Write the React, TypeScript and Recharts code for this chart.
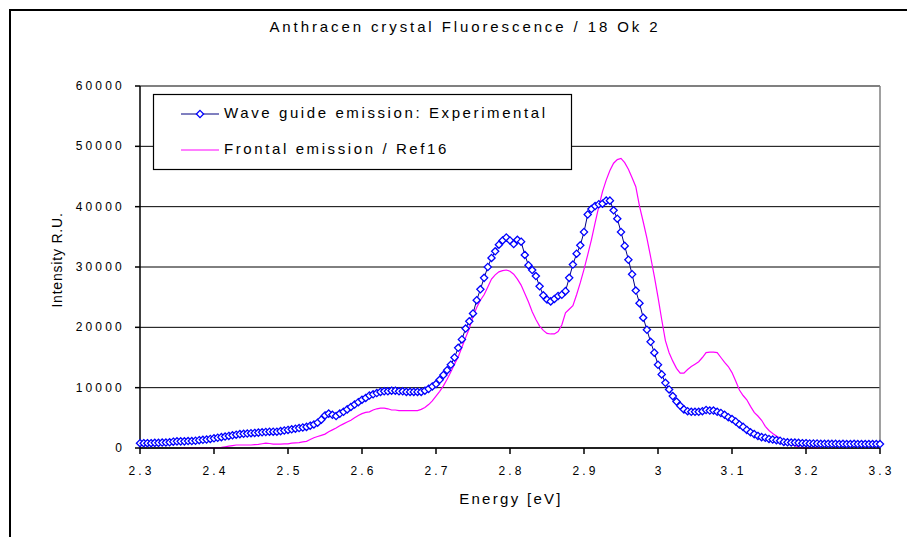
import React from 'react';
import { LineChart, Line, XAxis, YAxis, CartesianGrid, ReferenceLine } from 'recharts';

const CHART_TITLE = 'Anthracen crystal Fluorescence / 18 Ok 2';
const X_TITLE = 'Energy [eV]';
const Y_TITLE = 'Intensity R.U.';
const SERIES_NAMES = ['Wave guide emission: Experimental', 'Frontal emission / Ref16'];

const ENERGY_STEP = 0.005;
const WAVEGUIDE_START = 2.3;
const FRONTAL_START = 2.355;

// Wave guide emission (experimental), one row = 0.05 eV
const waveguideValues = [
  800, 800, 800, 800, 850, 850, 900, 900, 950, 1050,
  1100, 1100, 1100, 1150, 1150, 1200, 1300, 1350, 1400, 1500,
  1600, 1700, 1800, 1900, 2000, 2100, 2200, 2300, 2350, 2400,
  2450, 2500, 2550, 2600, 2650, 2700, 2700, 2700, 2800, 2900,
  3000, 3100, 3200, 3300, 3400, 3500, 3700, 3900, 4200, 4700,
  5400, 5700, 5500, 5300, 5700, 6000, 6400, 6800, 7200, 7600,
  8000, 8300, 8700, 8900, 9100, 9300, 9400, 9400, 9500, 9500,
  9400, 9400, 9300, 9300, 9300, 9300, 9300, 9500, 9800, 10200,
  10600, 11300, 12100, 12900, 13800, 15000, 16600, 18000, 19800, 21000,
  22300, 24500, 26300, 28200, 30000, 31500, 32600, 33700, 34400, 34900,
  34400, 33800, 34500, 34200, 32000, 30300, 29500, 28500, 26800, 25300,
  24600, 24300, 24700, 25200, 25400, 26000, 28200, 30400, 32200, 33600,
  35800, 38700, 39600, 40100, 40400, 40500, 41000, 41000, 39400, 38000,
  35800, 33500, 31200, 28800, 26100, 24000, 21600, 19600, 17600, 15800,
  13800, 12200, 10800, 9700, 8600, 7700, 7000, 6400, 6100, 6000,
  6000, 6000, 6100, 6300, 6200, 6200, 6000, 5800, 5500, 5100,
  4800, 4400, 3900, 3500, 3000, 2600, 2300, 2000, 1800, 1700,
  1500, 1400, 1300, 1200, 1000, 950, 900, 900, 850, 800,
  800, 750, 750, 750, 700, 700, 700, 700, 700, 650,
  700, 650, 650, 700, 650, 650, 650, 650, 650, 650,
  650,
];

// Frontal emission / Ref16, starting at 2.355 eV, one row = 0.05 eV
const frontalValues = [
  0, 0, 0, 0, 0, 0, 0, 0, 0, 0,
  50, 100, 200, 300, 400, 500, 500, 500, 500, 500,
  550, 600, 700, 800, 750, 650, 650, 650, 700, 700,
  800, 850, 900, 1000, 1100, 1400, 1700, 1900, 2100, 2300,
  2700, 3000, 3300, 3700, 4000, 4300, 4600, 5000, 5400, 5700,
  5900, 6000, 6300, 6500, 6600, 6600, 6500, 6300, 6300, 6200,
  6200, 6200, 6200, 6200, 6200, 6400, 6700, 7200, 7800, 8600,
  9400, 10300, 11400, 12600, 13900, 15100, 16700, 18300, 19800, 21800,
  23300, 24500, 25400, 26700, 28000, 28700, 29200, 29400, 29500, 29300,
  28800, 28000, 27000, 25600, 24200, 22600, 21300, 20200, 19500, 19000,
  18900, 18900, 19300, 20400, 22400, 23000, 23600, 25400, 27400, 29600,
  32000, 34500, 37300, 40000, 42500, 44400, 46000, 47200, 47800, 48000,
  47300, 46200, 44800, 43300, 40100, 37500, 34800, 31700, 28500, 25000,
  21300, 17800, 15800, 14400, 13200, 12400, 12400, 13000, 13500, 13900,
  14300, 15000, 15800, 15900, 15900, 15800, 15000, 14200, 13500, 12500,
  11100, 9600, 8700, 8000, 6900, 5900, 5300, 4600, 3600, 2900,
  2400, 2000, 1600, 1200, 800, 600, 400, 200, 0, 0,
  0, 0, 0, 0,
];

const xTicks = [2.3, 2.4, 2.5, 2.6, 2.7, 2.8, 2.9, 3.0, 3.1, 3.2, 3.3];
const yTicks = [0, 10000, 20000, 30000, 40000, 50000, 60000];

type Row = { energy: number; wave?: number; frontal?: number };
const rowMap = new Map<number, Row>();
waveguideValues.forEach((v, i) => {
  const k = Math.round((WAVEGUIDE_START + i * ENERGY_STEP) * 1000);
  rowMap.set(k, { energy: k / 1000, wave: v });
});
frontalValues.forEach((v, i) => {
  const k = Math.round((FRONTAL_START + i * ENERGY_STEP) * 1000);
  const r = rowMap.get(k) || { energy: k / 1000 };
  r.frontal = v;
  rowMap.set(k, r);
});
const data: Row[] = Array.from(rowMap.values()).sort((a, b) => a.energy - b.energy);

const FONT = '"Liberation Sans", Arial, sans-serif';
const BLUE_LINE = '#000080';
const BLUE_MARK = '#0000ff';
const MAGENTA = '#ff00ff';

const diamondPath = (cx: number, cy: number, r: number) =>
  `M${cx},${cy - r}L${cx + r},${cy}L${cx},${cy + r}L${cx - r},${cy}Z`;

const DiamondDot = (props: any) => {
  const { cx, cy, index } = props;
  if (cx == null || cy == null || isNaN(cx) || isNaN(cy)) return <g key={`d${index}`} />;
  return (
    <path key={`d${index}`} d={diamondPath(cx, cy, 3.6)} fill="#ffffff" stroke={BLUE_MARK} strokeWidth={1.3} />
  );
};

const XTick = (props: any) => {
  const { x, y, payload } = props;
  return (
    <text x={x + 1.6} y={y + 19} textAnchor="middle" fontFamily={FONT} fontSize={12} letterSpacing={3.2} fill="#000">
      {String(payload.value)}
    </text>
  );
};

const YTick = (props: any) => {
  const { x, y, payload } = props;
  return (
    <text x={x - 8} y={y + 4} textAnchor="end" fontFamily={FONT} fontSize={12} letterSpacing={3.2} fill="#000">
      {String(payload.value)}
    </text>
  );
};

export default function App() {
  return (
    <div style={{ position: 'absolute', left: 0, top: 0, width: 907, height: 537, overflow: 'hidden', background: '#fff' }}>
      <div style={{ position: 'absolute', left: 0, top: 0 }}>
        <LineChart width={907} height={537} data={data} margin={{ top: 86, right: 27, bottom: 59, left: 0 }}>
          <CartesianGrid horizontal vertical={false} stroke="#000" strokeWidth={1} />
          <ReferenceLine y={60000} stroke="#808080" strokeWidth={1.5} />
          <ReferenceLine x={3.3} stroke="#808080" strokeWidth={1.5} />
          <XAxis
            dataKey="energy"
            type="number"
            domain={[2.3, 3.3]}
            ticks={xTicks}
            interval={0}
            height={30}
            tickSize={6}
            tickMargin={2}
            axisLine={{ stroke: '#000', strokeWidth: 1.5 }}
            tickLine={{ stroke: '#000', strokeWidth: 1.5 }}
            tick={<XTick />}
          />
          <YAxis
            type="number"
            domain={[0, 60000]}
            ticks={yTicks}
            interval={0}
            width={140}
            tickSize={5}
            tickMargin={2}
            axisLine={{ stroke: '#000', strokeWidth: 1.5 }}
            tickLine={{ stroke: '#000', strokeWidth: 1.5 }}
            tick={<YTick />}
          />
          <Line
            type="linear"
            dataKey="wave"
            name={SERIES_NAMES[0]}
            stroke={BLUE_LINE}
            strokeWidth={1}
            dot={DiamondDot}
            activeDot={false}
            isAnimationActive={false}
          />
          <Line
            type="linear"
            dataKey="frontal"
            name={SERIES_NAMES[1]}
            stroke={MAGENTA}
            strokeWidth={1.2}
            dot={false}
            activeDot={false}
            isAnimationActive={false}
          />
        </LineChart>
      </div>
      <svg width={907} height={537} style={{ position: 'absolute', left: 0, top: 0, pointerEvents: 'none' }}>
        <rect x={10} y={10} width={1000} height={1000} fill="none" stroke="#000" strokeWidth={2} />
        <text x={465} y={32} textAnchor="middle" fontFamily={FONT} fontSize={15} letterSpacing={2.9} fill="#000">
          {CHART_TITLE}
        </text>
        <text transform="translate(62,260) rotate(-90)" textAnchor="middle" fontFamily={FONT} fontSize={14} letterSpacing={0.8} fill="#000">
          {Y_TITLE}
        </text>
        <text x={511} y={504} textAnchor="middle" fontFamily={FONT} fontSize={15} letterSpacing={2.3} fill="#000">
          {X_TITLE}
        </text>
        <rect x={153.5} y={94.5} width={418} height={75} fill="#fff" stroke="#000" strokeWidth={1.2} />
        <line x1={181} y1={114} x2={219} y2={114} stroke={BLUE_LINE} strokeWidth={1} />
        <path d={diamondPath(200, 114, 3.6)} fill="#fff" stroke={BLUE_MARK} strokeWidth={1.3} />
        <text x={224} y={118} fontFamily={FONT} fontSize={15} letterSpacing={2.6} fill="#000">
          {SERIES_NAMES[0]}
        </text>
        <line x1={181} y1={150} x2={219} y2={150} stroke={MAGENTA} strokeWidth={1.2} />
        <text x={224} y={154} fontFamily={FONT} fontSize={15} letterSpacing={2.6} fill="#000">
          {SERIES_NAMES[1]}
        </text>
      </svg>
    </div>
  );
}
